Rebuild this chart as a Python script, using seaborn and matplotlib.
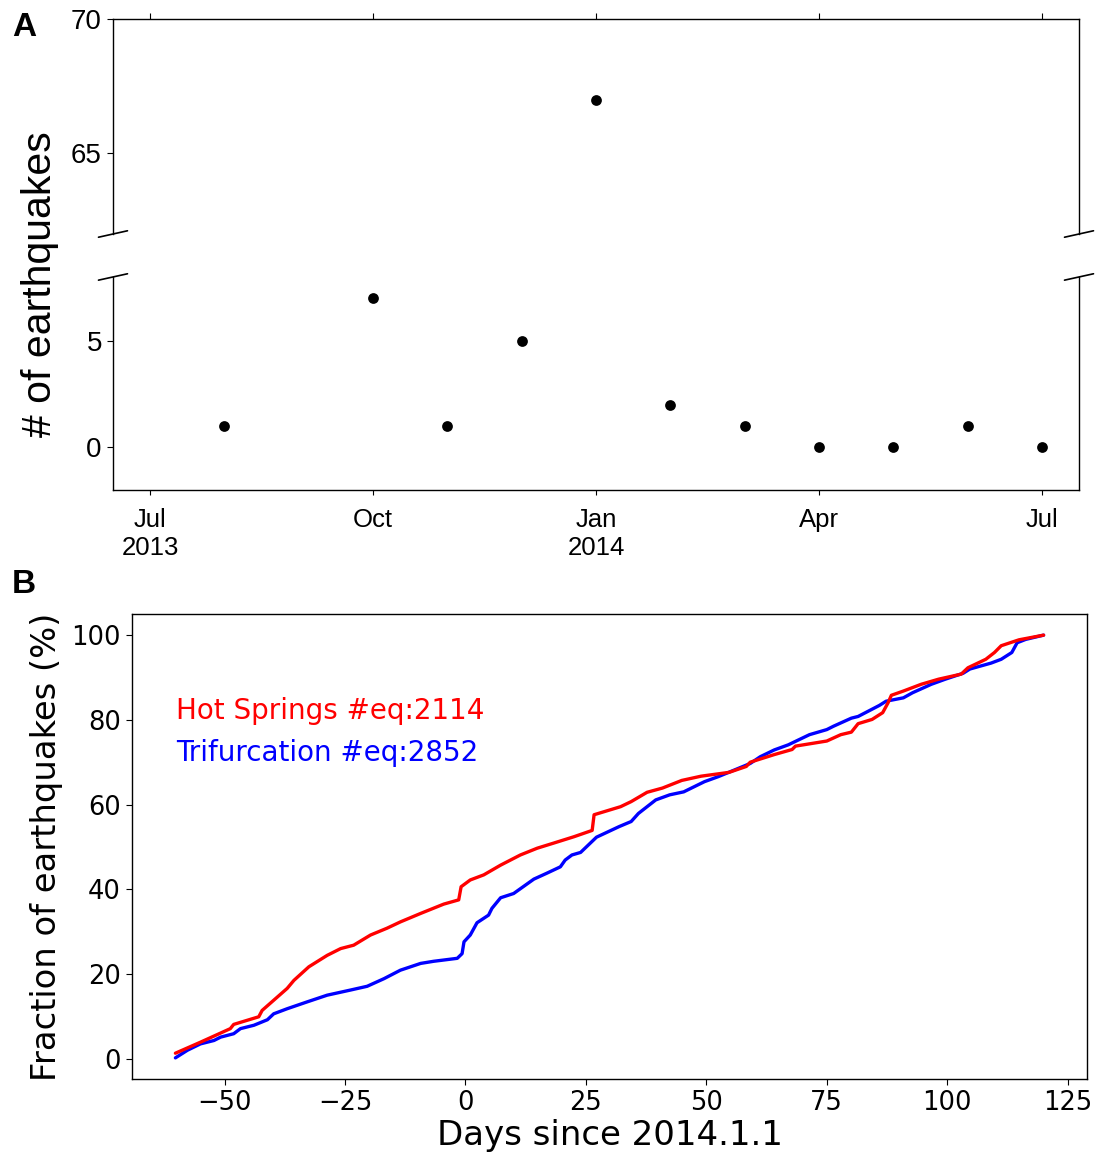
import numpy as np
import pandas as pd
import matplotlib
matplotlib.use("Agg")
import matplotlib.pyplot as plt
import seaborn as sns

sns.set_style("ticks")
plt.rcParams["font.family"] = ["DejaVu Sans"]
for key in ["text.color", "axes.labelcolor", "xtick.color", "ytick.color", "axes.edgecolor"]:
    plt.rcParams[key] = "black"

# panel A: monthly counts (September has no point)
months = ["2013-08", "2013-10", "2013-11", "2013-12", "2014-01",
          "2014-02", "2014-03", "2014-04", "2014-05", "2014-06", "2014-07"]
counts = [1, 7, 1, 5, 67, 2, 1, 0, 0, 1, 0]
tick_months = ["2013-07", "2013-10", "2014-01", "2014-04", "2014-07"]
tick_labels = ["Jul\n2013", "Oct", "Jan\n2014", "Apr", "Jul"]

# panel B: cumulative fractions
hs_days = [-60.2, -55.0, -48.8, -48.1, -42.9, -42.2, -39.8, -37.0, -35.6, -32.5,
           -28.7, -25.9, -23.2, -19.7, -16.3, -13.5, -9.3, -4.5, -1.4, -0.9,
           1.0, 3.8, 7.3, 11.4, 14.9, 18.3, 22.5, 26.3, 26.7, 32.2, 34.4, 37.7,
           40.9, 44.9, 48.9, 54.7, 58.3, 59.1, 64.1, 67.8, 68.5, 75.0, 77.9,
           80.1, 81.5, 84.4, 86.6, 87.7, 88.4, 90.9, 94.6, 98.2, 102.9, 104.3,
           108.0, 109.8, 111.2, 114.9, 120.0]
hs_pct = [1.3, 3.9, 7.1, 8.1, 9.9, 11.4, 13.8, 16.6, 18.5, 21.7,
          24.4, 26.0, 26.8, 29.2, 30.8, 32.3, 34.3, 36.5, 37.5, 40.6,
          42.2, 43.4, 45.7, 48.1, 49.7, 50.9, 52.4, 53.9, 57.6, 59.5, 60.7, 62.9,
          63.9, 65.7, 66.7, 67.6, 69.0, 70.0, 71.8, 73.0, 73.8, 75.0, 76.5,
          77.1, 79.1, 80.1, 81.7, 84.0, 85.8, 86.8, 88.4, 89.6, 90.8, 92.3,
          94.3, 95.9, 97.5, 98.9, 100.0]

tri_days = [-60.2, -57.7, -55.0, -52.2, -50.8, -48.1, -46.7, -43.9, -41.1, -39.8,
            -37.0, -32.9, -28.7, -23.9, -20.4, -16.9, -13.5, -9.3, -6.6, -1.7,
            -0.7, -0.3, 1.0, 2.4, 4.8, 5.5, 7.3, 10.0, 14.2, 16.9, 19.7, 20.7,
            22.1, 23.9, 27.2, 31.9, 34.4, 35.9, 39.5, 42.4, 45.3, 49.6, 52.5,
            59.1, 61.2, 64.1, 67.0, 71.4, 75.0, 76.4, 80.1, 81.5, 85.9, 87.3,
            90.9, 92.8, 96.7, 99.6, 103.3, 104.7, 109.1, 111.2, 113.4, 114.5,
            116.3, 120.0]
tri_pct = [0.2, 2.0, 3.5, 4.3, 5.1, 5.9, 7.1, 7.9, 9.2, 10.6,
           11.8, 13.4, 15.0, 16.2, 17.1, 18.9, 20.9, 22.5, 23.0, 23.7,
           24.8, 27.6, 29.2, 32.1, 33.9, 35.5, 38.0, 39.0, 42.4, 43.8, 45.3, 46.9,
           48.1, 48.7, 52.3, 54.8, 56.0, 57.9, 61.1, 62.3, 63.0, 65.4, 66.6,
           69.7, 71.3, 72.9, 74.1, 76.5, 77.7, 78.5, 80.4, 80.8, 83.4, 84.4,
           85.2, 86.4, 88.4, 89.6, 91.0, 92.0, 93.4, 94.3, 95.9, 98.2,
           99.0, 100.0]

hs_label = "Hot Springs #eq:2114"
tri_label = "Trifurcation #eq:2852"

# months are evenly spaced on the axis: use month index from Jul 2013
start = pd.Period("2013-07", freq="M")
month_pos = [(pd.Period(m, freq="M") - start).n for m in months]
tick_pos = [(pd.Period(m, freq="M") - start).n for m in tick_months]

df_a = pd.DataFrame({"month": month_pos, "n": counts})
df_hs = pd.DataFrame({"day": hs_days, "pct": hs_pct})
df_tri = pd.DataFrame({"day": tri_days, "pct": tri_pct})

fig = plt.figure(figsize=(10.99, 11.55), dpi=100)
ax_top = fig.add_axes([0.1028, 0.7974, 0.879, 0.1861])
ax_bot = fig.add_axes([0.1028, 0.5758, 0.879, 0.1844])
ax_b = fig.add_axes([0.1201, 0.0658, 0.869, 0.4026])

arial = "Liberation Sans"

# ---- panel A (broken axis)
for ax in (ax_top, ax_bot):
    sns.scatterplot(data=df_a, x="month", y="n", ax=ax, color="black", s=60,
                    edgecolor="black", linewidth=0, legend=False)
    ax.set_xlim(-0.5, 12.5)
    ax.set_xlabel("")
    ax.set_ylabel("")
    for sp in ax.spines.values():
        sp.set_linewidth(1.0)

ax_top.set_ylim(62, 70)
ax_bot.set_ylim(-2, 8)
ax_top.spines["bottom"].set_visible(False)
ax_bot.spines["top"].set_visible(False)

ax_top.set_xticks(tick_pos)
ax_top.xaxis.tick_top()
ax_top.tick_params(axis="x", labeltop=False, length=4)
ax_top.set_yticks([65, 70])
ax_bot.set_xticks(tick_pos)
ax_bot.set_xticklabels(tick_labels, fontfamily=arial, fontsize=18.5)
ax_bot.set_yticks([0, 5])
for ax in (ax_top, ax_bot):
    ax.tick_params(axis="y", labelsize=20, length=4.5)
    for lab in ax.get_yticklabels():
        lab.set_fontfamily(arial)
ax_bot.tick_params(axis="x", length=3.5, pad=9.5)

d = 0.015
kw = dict(transform=ax_top.transAxes, color="k", clip_on=False, lw=1.2)
ax_top.plot((-d, d), (-d, d), **kw)
ax_top.plot((1 - d, 1 + d), (-d, d), **kw)
kw.update(transform=ax_bot.transAxes)
ax_bot.plot((-d, d), (1 - d, 1 + d), **kw)
ax_bot.plot((1 - d, 1 + d), (1 - d, 1 + d), **kw)

fig.text(0.036, 1 - 284 / 1155, "# of earthquakes", rotation=90, ha="center",
         va="center", fontsize=29.5, fontfamily=arial)
fig.text(0.011, 1 - 27 / 1155, "A", fontsize=24, fontweight="bold",
         fontfamily=arial, va="center")
fig.text(0.011, 1 - 585 / 1155, "B", fontsize=24, fontweight="bold",
         fontfamily=arial, va="center")

# ---- panel B
sns.lineplot(data=df_hs, x="day", y="pct", ax=ax_b, color="red", lw=2.4,
             sort=False, estimator=None)
sns.lineplot(data=df_tri, x="day", y="pct", ax=ax_b, color="blue", lw=2.4,
             sort=False, estimator=None)
ax_b.lines[0].set_zorder(3)
ax_b.set_xticks([-50, -25, 0, 25, 50, 75, 100, 125])
ax_b.set_yticks([0, 20, 40, 60, 80, 100])
ax_b.tick_params(labelsize=18.5, length=4.5)
ax_b.set_xlabel("Days since 2014.1.1", fontsize=24.5, labelpad=2)
ax_b.set_ylabel("Fraction of earthquakes (%)", fontsize=24.3, labelpad=6)
for sp in ax_b.spines.values():
    sp.set_linewidth(1.0)
ax_b.text(0.046, 0.791, hs_label, color="red", fontsize=20,
          transform=ax_b.transAxes, va="center")
ax_b.text(0.046, 0.701, tri_label, color="blue", fontsize=20,
          transform=ax_b.transAxes, va="center")

fig.savefig("out.png", dpi=100)
